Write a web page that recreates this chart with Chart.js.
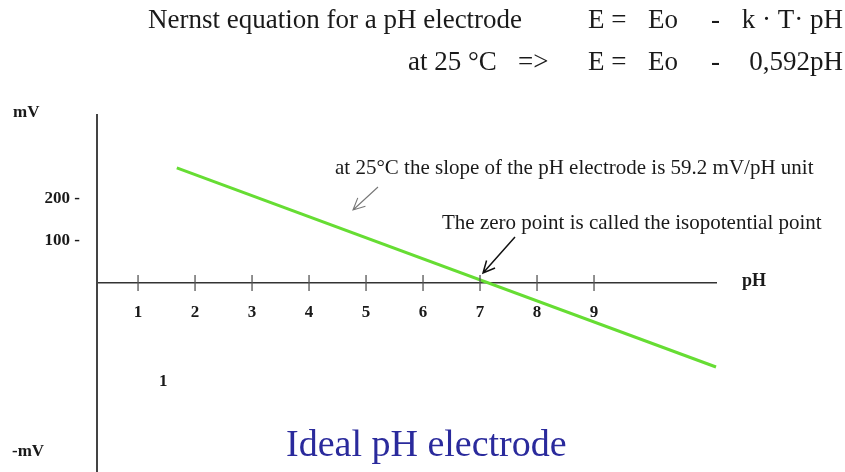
<!DOCTYPE html>
<html>
<head>
<meta charset="utf-8">
<script src="https://cdn.jsdelivr.net/npm/chart.js@4.4.1/dist/chart.umd.min.js"></script>
<style>
  html, body { margin: 0; padding: 0; background: #fff; }
  #wrap { width: 845px; height: 472px; position: relative; }
</style>
</head>
<body>
<div id="wrap"><canvas id="myChart"></canvas></div>
<script>
// pH axis labels and the mV ticks shown on the left
var phTicks = [1, 2, 3, 4, 5, 6, 7, 8, 9];
var mvTicks = [100, 200];
// ideal electrode line (start / end)
var linePH = [1.68, 11.14];
var lineMV = [274, -200];

var serif = "'Liberation Serif', 'DejaVu Serif', serif";

function arrow(ctx, x1, y1, x2, y2, color, w) {
  var a = Math.atan2(y2 - y1, x2 - x1), len = 13;
  ctx.save();
  ctx.strokeStyle = color;
  ctx.lineWidth = w;
  ctx.beginPath();
  ctx.moveTo(x1, y1);
  ctx.lineTo(x2, y2);
  ctx.moveTo(x2 - len * Math.cos(a - 0.45), y2 - len * Math.sin(a - 0.45));
  ctx.lineTo(x2, y2);
  ctx.lineTo(x2 - len * Math.cos(a + 0.45), y2 - len * Math.sin(a + 0.45));
  ctx.stroke();
  ctx.restore();
}

var decor = {
  id: 'decor',
  afterDraw: function(chart) {
    var ctx = chart.ctx;
    var xs = chart.scales.x, ys = chart.scales.y;
    var y0 = ys.getPixelForValue(0);

    // small cross ticks on the pH axis
    ctx.save();
    ctx.strokeStyle = '#555';
    ctx.lineWidth = 1.3;
    phTicks.forEach(function(v) {
      var px = xs.getPixelForValue(v);
      ctx.beginPath();
      ctx.moveTo(px, y0 - 8);
      ctx.lineTo(px, y0 + 8);
      ctx.stroke();
    });
    ctx.restore();

    ctx.save();
    ctx.fillStyle = '#1a1a1a';
    ctx.textBaseline = 'middle';

    // equations at the top
    ctx.font = '27px ' + serif;
    ctx.textAlign = 'left';
    ctx.fillText('Nernst equation for a pH electrode', 148, 21);
    ctx.fillText('at 25 \u00b0C', 408, 63);
    ctx.fillText('=>', 518, 63);
    [21, 63].forEach(function(y) {
      ctx.fillText('E =', 588, y);
      ctx.fillText('Eo', 648, y);
      ctx.fillText('-', 711, y);
    });
    ctx.textAlign = 'right';
    ctx.fillText('k \u00b7 T\u00b7 pH', 843, 21);
    ctx.fillText('0,592pH', 843, 63);

    // axis words
    ctx.textAlign = 'left';
    ctx.font = 'bold 17px ' + serif;
    ctx.fillText('mV', 13, 113);
    ctx.fillText('-mV', 12, 452);
    ctx.fillText('1', 159, 382);
    ctx.font = 'bold 18px ' + serif;
    ctx.fillText('pH', 742, 281);

    // notes
    ctx.font = '21px ' + serif;
    ctx.fillText('at 25\u00b0C the slope of the pH electrode is 59.2 mV/pH unit', 335, 168);
    ctx.fillText('The zero point is called the isopotential point', 442, 223);

    ctx.fillStyle = '#2a2a9c';
    ctx.font = '38px ' + serif;
    ctx.fillText('Ideal pH electrode', 286, 446);
    ctx.restore();

    arrow(ctx, 378, 187, 353, 210, '#777', 1.1);
    arrow(ctx, 515, 237, xs.getPixelForValue(7) + 3, y0 - 10, '#111', 1.5);
  }
};

var ctx = document.getElementById('myChart').getContext('2d');
var myChart = new Chart(ctx, {
  type: 'line',
  data: {
    datasets: [{
      data: linePH.map(function(p, i) { return {x: p, y: lineMV[i]}; }),
      borderColor: '#66dd33',
      borderWidth: 3,
      pointRadius: 0,
      fill: false,
      clip: false
    }]
  },
  plugins: [decor],
  options: {
    responsive: true,
    maintainAspectRatio: false,
    animation: false,
    layout: {
      padding: {top: 115, right: 129, left: 0, bottom: 0}
    },
    plugins: {
      legend: {display: false},
      tooltip: {enabled: false}
    },
    scales: {
      x: {
        type: 'linear',
        min: 0.28,
        max: 11.14,
        position: {y: 0},
        afterFit: function(s) { s.height = 0; },
        grid: {drawOnChartArea: false, drawTicks: false},
        border: {color: '#333', width: 1.5},
        afterBuildTicks: function(s) {
          s.ticks = phTicks.map(function(v) { return {value: v}; });
        },
        ticks: {
          color: '#1a1a1a',
          padding: 19,
          maxRotation: 0,
          font: {family: serif, size: 17, weight: 'bold'}
        }
      },
      y: {
        type: 'linear',
        min: -450,
        max: 400,
        position: 'left',
        // keep the axis full height: no label overhang padding
        afterFit: function(s) {
          s.width = 97;
          s.paddingTop = 0;
          s.paddingBottom = 0;
        },
        grid: {drawOnChartArea: false, drawTicks: false},
        border: {color: '#444', width: 2},
        afterBuildTicks: function(s) {
          s.ticks = mvTicks.map(function(v) { return {value: v}; });
        },
        ticks: {
          color: '#1a1a1a',
          padding: 17,
          font: {family: serif, size: 17, weight: 'bold'},
          callback: function(v) { return v + ' -'; }
        }
      }
    }
  }
});
</script>
</body>
</html>
